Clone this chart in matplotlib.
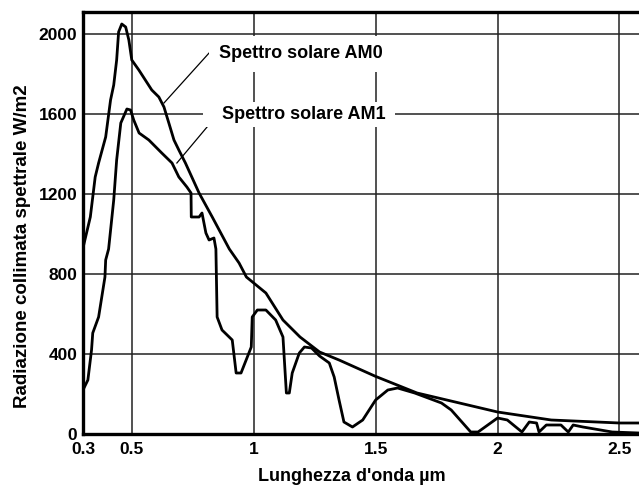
import matplotlib
matplotlib.use("Agg")
import matplotlib.pyplot as plt

plt.rcParams['font.family'] = ['Liberation Sans', 'DejaVu Sans']
plt.rcParams['font.weight'] = 'bold'

# AM0 (extraterrestrial) spectrum
am0_x = [0.30, 0.33, 0.35, 0.364, 0.393, 0.413, 0.426, 0.438, 0.446, 0.459, 0.475,
         0.488, 0.50, 0.529, 0.582, 0.611, 0.632, 0.652, 0.673, 0.693, 0.72, 0.776,
         0.83, 0.90, 0.94, 0.97, 1.00, 1.05, 1.12, 1.19, 1.27, 1.35, 1.50, 1.67,
         2.00, 2.22, 2.50, 2.58]
am0_y = [930, 1085, 1285, 1355, 1485, 1670, 1745, 1870, 2010, 2050, 2035,
         1970, 1870, 1820, 1720, 1685, 1635, 1555, 1470, 1420, 1355, 1205,
         1085, 925, 855, 785, 755, 705, 570, 485, 410, 370, 288, 205,
         110, 70, 55, 55]

# AM1 (ground level) spectrum
am1_x = [0.30, 0.32, 0.335, 0.34, 0.364, 0.377, 0.39, 0.393, 0.405, 0.426, 0.438,
         0.455, 0.48, 0.495, 0.508, 0.53, 0.57, 0.623, 0.665, 0.693, 0.726, 0.743,
         0.744, 0.776, 0.788, 0.804, 0.817, 0.837, 0.845, 0.85, 0.87, 0.912, 0.928,
         0.948, 0.969, 0.99, 0.994, 1.015, 1.05, 1.09, 1.12, 1.125, 1.134, 1.146,
         1.158, 1.187, 1.208, 1.237, 1.27, 1.31, 1.33, 1.35, 1.37, 1.405, 1.447,
         1.50, 1.55, 1.59, 1.66, 1.77, 1.81, 1.89, 1.92, 2.00, 2.04, 2.10, 2.13,
         2.16, 2.17, 2.20, 2.26, 2.29, 2.31, 2.35, 2.47, 2.58]
am1_y = [220, 270, 420, 505, 585, 685, 785, 870, 925, 1170, 1370,
         1555, 1625, 1620, 1570, 1505, 1470, 1405, 1355, 1285, 1235, 1205,
         1085, 1085, 1105, 1005, 970, 980, 925, 585, 520, 470, 305,
         305, 370, 435, 585, 620, 620, 570, 485, 385, 205, 205,
         305, 405, 435, 430, 390, 355, 285, 170, 60, 35, 70,
         170, 220, 230, 205, 155, 120, 10, 10, 80, 70, 10, 60,
         55, 10, 45, 45, 10, 45, 35, 10, 5]

x_ticks = [0.3, 0.5, 1, 1.5, 2, 2.5]
x_tick_labels = ["0.3", "0.5", "1", "1.5", "2", "2.5"]
y_ticks = [0, 400, 800, 1200, 1600, 2000]

fig = plt.figure(figsize=(6.39, 4.88), dpi=100)
ax = fig.add_axes([83 / 639, 54 / 488, 556 / 639, 422 / 488])

ax.plot(am0_x, am0_y, color='black', lw=2.0, zorder=3)
ax.plot(am1_x, am1_y, color='black', lw=2.0, zorder=3)

ax.set_xlim(0.3, 2.58)
ax.set_ylim(0, 2110)
ax.set_xticks(x_ticks)
ax.set_xticklabels(x_tick_labels)
ax.set_yticks(y_ticks)
ax.tick_params(length=0, labelsize=12.5, pad=4)
ax.tick_params(axis='x', pad=6)
ax.grid(True, color='#222222', lw=1.1, zorder=1)
ax.set_axisbelow(True)

for side in ['left', 'bottom', 'top']:
    ax.spines[side].set_linewidth(2.4)
ax.spines['right'].set_visible(False)

ax.set_xlabel("Lunghezza d'onda µm", fontsize=13, fontweight='bold')
ax.set_ylabel("Radiazione collimata spettrale W/m2", fontsize=13.5, fontweight='bold')
ax.xaxis.set_label_coords(0.484, -0.08)
ax.yaxis.set_label_coords(-0.094, 0.445)

# labels with leader lines
ax.plot([0.817, 0.632], [1905, 1655], color='black', lw=0.9, zorder=4)
ax.plot([0.85, 0.685], [1595, 1355], color='black', lw=0.9, zorder=4)
ax.text(0.858, 1900, "Spettro solare AM0", fontsize=13, fontweight='bold', va='center',
        zorder=5, bbox=dict(facecolor='white', edgecolor='none', pad=7))
ax.text(0.809, 1598, "   Spettro solare AM1 ", fontsize=13, fontweight='bold', va='center',
        zorder=5, bbox=dict(facecolor='white', edgecolor='none', pad=3))

plt.savefig("out.png", dpi=100)
